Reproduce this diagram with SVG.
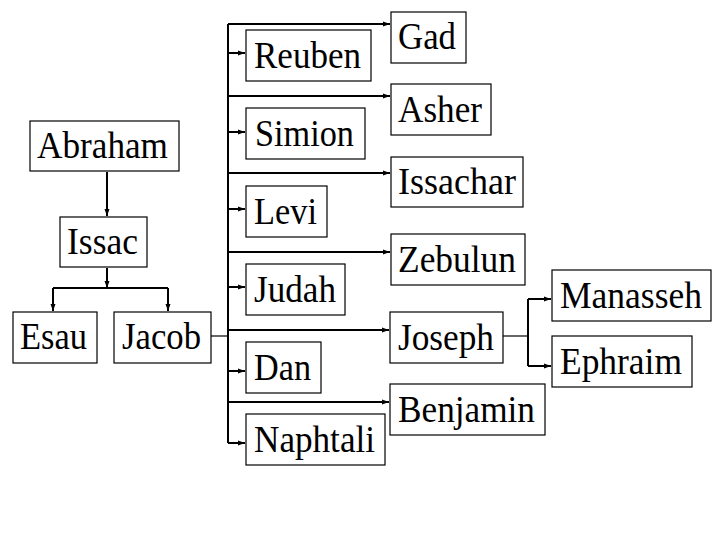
<svg xmlns="http://www.w3.org/2000/svg" width="720" height="540" viewBox="0 0 720 540">
<defs>
<marker id="ah" markerUnits="userSpaceOnUse" markerWidth="7" markerHeight="6" refX="7" refY="3" orient="auto">
<path d="M0,0.5 L7,3 L0,5.5 z" fill="#000"/>
</marker>
</defs>
<style>
rect{fill:#fff;stroke:#000;stroke-width:1.2}
text{font-family:"Liberation Serif","Times New Roman",serif;font-size:37px;fill:#000}
.c{fill:none;stroke:#000;stroke-width:2}
.t{fill:none;stroke:#000;stroke-width:1.2}
.a{marker-end:url(#ah)}
</style>
<rect x="0" y="0" width="720" height="540" style="fill:#fff;stroke:none"/>
<g id="connectors">
<path class="c a" d="M107,172 V216"/>
<path class="c a" d="M107,268 V288"/>
<path class="c" d="M53,288 H168"/>
<path class="c a" d="M53,288 V311"/>
<path class="c a" d="M168,288 V311"/>
<path class="t" d="M211,336 H228"/>
<path class="c" d="M228,24 V443"/>
<path class="c a" d="M228,24 H390"/>
<path class="c a" d="M228,53 H245"/>
<path class="c a" d="M228,96 H390"/>
<path class="c a" d="M228,132 H245"/>
<path class="c a" d="M228,173 H390"/>
<path class="c a" d="M228,209 H245"/>
<path class="c a" d="M228,252 H390"/>
<path class="c a" d="M228,287 H245"/>
<path class="c a" d="M228,330 H389"/>
<path class="c a" d="M228,371 H245"/>
<path class="c a" d="M228,402 H389"/>
<path class="c a" d="M228,443 H245"/>
<path class="t" d="M503,336 H528"/>
<path class="c" d="M528,299 V366"/>
<path class="c a" d="M528,299 H551"/>
<path class="c a" d="M528,366 H551"/>
</g>
<g id="abraham"><rect x="30" y="121" width="149" height="50"/><text x="37" y="158" textLength="131" lengthAdjust="spacingAndGlyphs">Abraham</text></g>
<g id="issac"><rect x="60" y="217" width="87" height="50"/><text x="67" y="254" textLength="71" lengthAdjust="spacingAndGlyphs">Issac</text></g>
<g id="esau"><rect x="13" y="312" width="84" height="51"/><text x="20" y="349" textLength="67" lengthAdjust="spacingAndGlyphs">Esau</text></g>
<g id="jacob"><rect x="114" y="312" width="97" height="51"/><text x="122" y="349" textLength="79" lengthAdjust="spacingAndGlyphs">Jacob</text></g>
<g id="reuben"><rect x="246" y="30" width="125" height="51"/><text x="254" y="68" textLength="107" lengthAdjust="spacingAndGlyphs">Reuben</text></g>
<g id="simion"><rect x="246" y="108" width="119" height="51"/><text x="255" y="146" textLength="99" lengthAdjust="spacingAndGlyphs">Simion</text></g>
<g id="levi"><rect x="246" y="186" width="81" height="51"/><text x="254" y="224" textLength="63" lengthAdjust="spacingAndGlyphs">Levi</text></g>
<g id="judah"><rect x="246" y="264" width="99" height="51"/><text x="254" y="302" textLength="82" lengthAdjust="spacingAndGlyphs">Judah</text></g>
<g id="dan"><rect x="246" y="342" width="75" height="51"/><text x="254" y="380" textLength="57" lengthAdjust="spacingAndGlyphs">Dan</text></g>
<g id="naphtali"><rect x="246" y="414" width="139" height="51"/><text x="254" y="452" textLength="121" lengthAdjust="spacingAndGlyphs">Naphtali</text></g>
<g id="gad"><rect x="391" y="12" width="75" height="51"/><text x="398" y="49" textLength="58" lengthAdjust="spacingAndGlyphs">Gad</text></g>
<g id="asher"><rect x="391" y="84" width="100" height="51"/><text x="398" y="122" textLength="84" lengthAdjust="spacingAndGlyphs">Asher</text></g>
<g id="issachar"><rect x="391" y="157" width="132" height="50"/><text x="398" y="194" textLength="118" lengthAdjust="spacingAndGlyphs">Issachar</text></g>
<g id="zebulun"><rect x="391" y="234" width="134" height="51"/><text x="398" y="272" textLength="118" lengthAdjust="spacingAndGlyphs">Zebulun</text></g>
<g id="joseph"><rect x="390" y="312" width="113" height="51"/><text x="398" y="350" textLength="96" lengthAdjust="spacingAndGlyphs">Joseph</text></g>
<g id="benjamin"><rect x="390" y="384" width="155" height="51"/><text x="398" y="422" textLength="137" lengthAdjust="spacingAndGlyphs">Benjamin</text></g>
<g id="manasseh"><rect x="552" y="270" width="159" height="51"/><text x="560" y="308" textLength="142" lengthAdjust="spacingAndGlyphs">Manasseh</text></g>
<g id="ephraim"><rect x="552" y="336" width="140" height="51"/><text x="560" y="374" textLength="122" lengthAdjust="spacingAndGlyphs">Ephraim</text></g>
</svg>
